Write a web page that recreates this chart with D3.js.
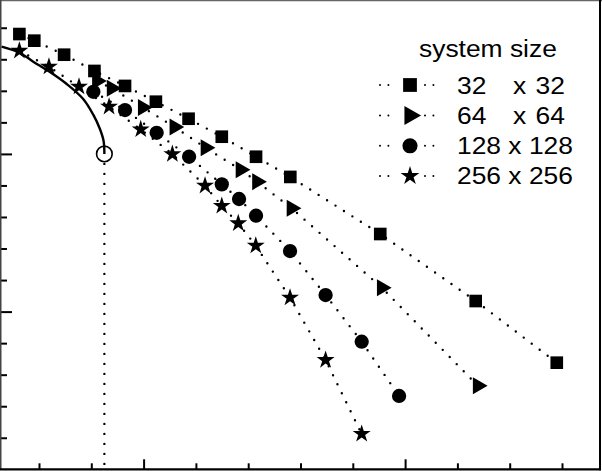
<!DOCTYPE html>
<html>
<head>
<meta charset="utf-8">
<script src="https://cdn.jsdelivr.net/npm/d3@7"></script>
<style>
  html, body { margin: 0; padding: 0; background: #fff; }
  svg { display: block; }
  text { font-family: "Liberation Sans", Arial, sans-serif; fill: #000; }
</style>
</head>
<body>
<div id="chart"></div>
<script>
// Series values (x, y in axis units)
const size32 = [[0.525,2.760],[0.582,2.718],[0.696,2.629],[0.812,2.526],[0.929,2.431],[1.047,2.331],
  [1.172,2.223],[1.299,2.109],[1.430,1.982],[1.561,1.854],[1.905,1.492],[2.270,1.067],[2.580,0.676]];
const size64 = [[0.822,2.462],[0.878,2.416],[0.997,2.295],[1.118,2.171],[1.237,2.039],[1.371,1.900],
  [1.434,1.824],[1.566,1.655],[1.911,1.152],[2.278,0.530]];
const size128 = [[0.808,2.394],[0.929,2.278],[1.050,2.134],[1.174,1.982],[1.299,1.807],[1.365,1.714],
  [1.430,1.608],[1.560,1.384],[1.696,1.105],[1.834,0.809],[1.977,0.465]];
const size256 = [[0.525,2.654],[0.638,2.553],[0.753,2.426],[0.868,2.299],[0.989,2.156],[1.110,1.999],
  [1.235,1.798],[1.299,1.670],[1.362,1.560],[1.429,1.418],[1.560,1.088],[1.696,0.693],[1.834,0.224]];
// solid curve ending at the open circle
const curvePts = [[0.457,2.680],[0.527,2.640],[0.578,2.585],[0.642,2.519],[0.706,2.443],[0.769,2.348],
  [0.808,2.247],[0.833,2.158],[0.847,2.082],[0.850,2.000]];
const criticalPt = [0.850, 2.000];

const seriesNames = ['32', '64', '128', '256'];
const legendLabels = [['32', 'x', '32'], ['64', 'x', '64'], ['128 x 128'], ['256 x 256']];
const xMinorTicks = [0.6, 0.8, 1.2, 1.4, 1.6, 1.8, 2.2, 2.4, 2.6];
const xMajorTicks = [1, 2];
const yMinorTicks = [0.2, 0.4, 0.6, 0.8, 1.2, 1.4, 1.6, 1.8, 2.2, 2.4, 2.6, 2.8];
const yMajorTicks = [1, 2];

const W = 602, H = 471;
const plot = { left: 1, right: 600, top: 1, bottom: 469.3 };

const svg = d3.select('#chart').append('svg')
  .attr('width', W)
  .attr('height', H);

const x = d3.scaleLinear().domain([0.4547, 2.7453]).range([plot.left, plot.right]);
const y = d3.scaleLinear().domain([0, 2.9696]).range([plot.bottom, plot.top]);

// Ticks (pointing inward, no labels)
function tickAxis(axis, values, size, transform) {
  const g = svg.append('g')
    .attr('transform', transform)
    .call(axis.tickValues(values).tickSize(size).tickFormat(''));
  g.select('.domain').remove();
  g.selectAll('line').attr('stroke', '#000').attr('stroke-width', 2);
}
tickAxis(d3.axisRight(y), yMinorTicks, 6, `translate(${plot.left},0)`);
tickAxis(d3.axisRight(y), yMajorTicks, 11, `translate(${plot.left},0)`);
tickAxis(d3.axisTop(x), xMinorTicks, 6, `translate(0,${plot.bottom})`);
tickAxis(d3.axisTop(x), xMajorTicks, 10, `translate(0,${plot.bottom})`);

// Frame
svg.append('line').attr('x1', 0).attr('x2', W).attr('y1', 0.5).attr('y2', 0.5)
  .attr('stroke', '#666').attr('stroke-width', 1.5);
svg.append('line').attr('x1', 0.75).attr('x2', 0.75).attr('y1', 0).attr('y2', plot.bottom)
  .attr('stroke', '#444').attr('stroke-width', 1.5);
svg.append('line').attr('x1', plot.right).attr('x2', plot.right).attr('y1', 0).attr('y2', plot.bottom + 1)
  .attr('stroke', '#000').attr('stroke-width', 2);
svg.append('line').attr('x1', 0).attr('x2', plot.right + 1).attr('y1', plot.bottom).attr('y2', plot.bottom)
  .attr('stroke', '#000').attr('stroke-width', 2.2);

const dotted = sel => sel.attr('fill', 'none').attr('stroke', '#000')
  .attr('stroke-width', 2.4).attr('stroke-linecap', 'round').attr('stroke-dasharray', '0,10');

// Solid curve and the open circle with its vertical dotted drop
svg.append('path')
  .datum(curvePts)
  .attr('d', d3.line().x(d => x(d[0])).y(d => y(d[1])).curve(d3.curveCatmullRom))
  .attr('fill', 'none').attr('stroke', '#000').attr('stroke-width', 2.4);

svg.append('line')
  .attr('x1', x(criticalPt[0])).attr('x2', x(criticalPt[0]))
  .attr('y1', y(criticalPt[1]) + 10).attr('y2', y(0))
  .call(dotted);

svg.append('circle')
  .attr('cx', x(criticalPt[0])).attr('cy', y(criticalPt[1])).attr('r', 7.8)
  .attr('fill', 'none').attr('stroke', '#000').attr('stroke-width', 1.6);

// Series
const series = [
  { data: size256, symbol: d3.symbolStar, size: 100, rotate: 0 },
  { data: size128, symbol: d3.symbolCircle, size: 160, rotate: 0 },
  { data: size64, symbol: d3.symbolTriangle, size: 125, rotate: 90 },
  { data: size32, symbol: d3.symbolSquare, size: 160, rotate: 0 }
];

const line = d3.line().x(d => x(d[0])).y(d => y(d[1]));

series.forEach(s => {
  svg.append('path').datum(s.data).attr('d', line).call(dotted);
});

series.forEach(s => {
  svg.append('g').selectAll('path')
    .data(s.data)
    .enter()
    .append('path')
    .attr('d', d3.symbol().type(s.symbol).size(s.size))
    .attr('transform', d => `translate(${x(d[0])},${y(d[1])}) rotate(${s.rotate})`)
    .attr('fill', '#000');
});

// Legend
const legend = svg.append('g').attr('class', 'legend');

legend.append('text')
  .attr('transform', 'translate(419,56.5) scale(1.1,1)')
  .style('font-size', '24px')
  .text('system size');

const legendSymbols = [
  { symbol: d3.symbolSquare, size: 190, rotate: 0 },
  { symbol: d3.symbolTriangle, size: 160, rotate: 90 },
  { symbol: d3.symbolCircle, size: 180, rotate: 0 },
  { symbol: d3.symbolStar, size: 110, rotate: 0 }
];
const rowY = [85, 115.5, 145.8, 176];
const rowBase = [94, 124, 153.5, 183.5];

legendSymbols.forEach((s, i) => {
  const g = legend.append('g').attr('class', 'legend-item').attr('data-name', seriesNames[i]);
  g.append('line').attr('x1', 380).attr('x2', 389).attr('y1', rowY[i]).attr('y2', rowY[i])
    .call(sel => dotted(sel).attr('stroke-width', 2).attr('stroke-dasharray', '0,8.4'));
  g.append('line').attr('x1', 425).attr('x2', 434).attr('y1', rowY[i]).attr('y2', rowY[i])
    .call(sel => dotted(sel).attr('stroke-width', 2).attr('stroke-dasharray', '0,8.4'));
  g.append('path')
    .attr('d', d3.symbol().type(s.symbol).size(s.size))
    .attr('transform', `translate(410,${rowY[i]}) rotate(${s.rotate})`)
    .attr('fill', '#000');

  const parts = legendLabels[i];
  const xs = parts.length === 3 ? [457, 513, 535.5] : [457];
  parts.forEach((t, k) => {
    g.append('text')
      .attr('transform', `translate(${xs[k]},${rowBase[i]}) scale(1.1,1)`)
      .style('font-size', '24px')
      .text(t);
  });
});
</script>
</body>
</html>
